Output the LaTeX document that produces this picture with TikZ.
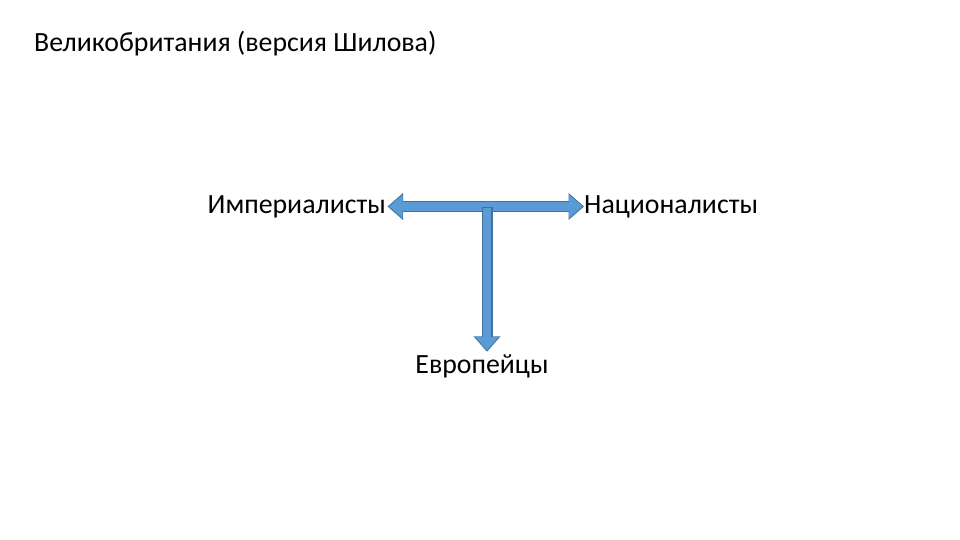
\documentclass[tikz,border=0pt]{standalone}
\usepackage{fontspec}
\setmainfont{Carlito}
\usetikzlibrary{positioning,
        arrows.meta}
\definecolor{arrowfill}{HTML}{5B9BD5}
\definecolor{arrowedge}{HTML}{41719C}
\tikzset{
        lbl/.style={inner sep=0pt, text height=19pt, text depth=6pt, font=\fontsize{27.8}{32}\selectfont},
        edgeline/.style={draw=arrowedge, line width=11pt},
        fillline/.style={draw=arrowfill, line width=8.6pt}
}
\begin{document}
\begin{tikzpicture}[x=1pt,y=1pt]
        \useasboundingbox[fill=white] (0,0) rectangle (960,-540);
        \node [lbl, anchor=base west] (title) at (34,-52) {Великобритания (версия Шилова)};
        \node [lbl, anchor=base east] (imp) at (386,-213) {Империалисты};
        \node [lbl, anchor=base west] (nat) at (584,-213) {Националисты};
        \node [lbl, anchor=base] (eur) at (482,-373) {Европейцы};
        \coordinate (jn) at (487,-207);
        
        \draw [edgeline, {Triangle[width=26pt,length=15.5pt]}-{Triangle[width=26pt,length=15.5pt]}, shorten <=1.5pt, shorten >=0pt] (imp.east) -- (nat.west);
        \draw [fillline, {Triangle[width=22.6pt,length=13.5pt]}-{Triangle[width=22.6pt,length=13.5pt]}, shorten <=3pt, shorten >=1.5pt] (imp.east) -- (nat.west);
        \draw [edgeline, -{Triangle[width=26pt,length=15.5pt]}, shorten >=2pt] (jn) -- (jn |- eur.north);
        \draw [fillline, -{Triangle[width=22.6pt,length=13.5pt]}, shorten >=3.5pt] ([yshift=-1pt]jn) -- (jn |- eur.north);
\end{tikzpicture}
\end{document}
